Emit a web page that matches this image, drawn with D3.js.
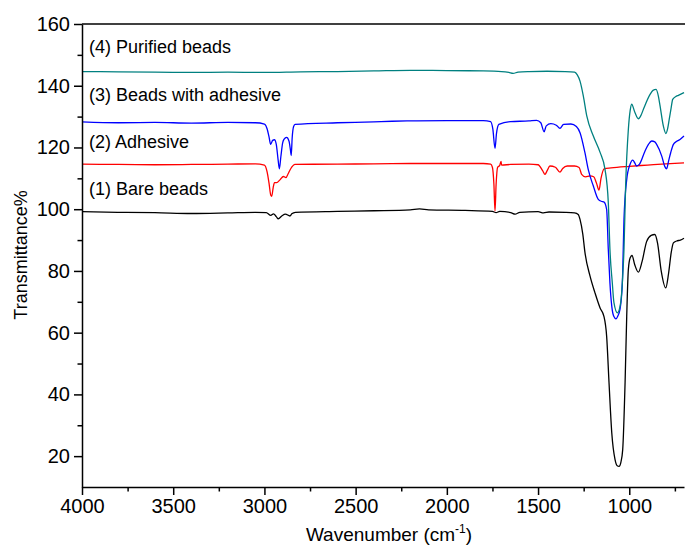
<!DOCTYPE html>
<html>
<head>
<meta charset="utf-8">
<script src="https://cdn.jsdelivr.net/npm/d3@7"></script>
<style>
  html, body { margin: 0; padding: 0; background: #fff; }
  svg { display: block; }
  text { font-family: "Liberation Sans", Arial, sans-serif; fill: #000; }
</style>
</head>
<body>
<svg id="chart" width="685" height="546"></svg>
<script>
// FTIR spectra: [wavenumber (cm-1), transmittance %] pairs, offset per sample
const bareBeads = [
  [4000, 99.2], [3800, 99.0], [3600, 98.9], [3400, 98.6], [3200, 98.8], [3050, 99.0],
  [2990, 98.9], [2965, 98.0], [2950, 98.5], [2935, 97.6], [2924, 96.9], [2905, 97.8],
  [2885, 98.4], [2860, 97.8], [2850, 98.5], [2830, 99.0], [2600, 99.3], [2400, 99.5],
  [2200, 99.8], [2150, 100.1], [2100, 99.8], [1900, 99.6], [1750, 99.3], [1730, 98.9],
  [1710, 99.3], [1650, 98.9], [1626, 98.4], [1600, 99.0], [1500, 99.2], [1470, 98.8],
  [1440, 99.1], [1350, 99.0], [1300, 98.8], [1280, 98.3], [1270, 96.7], [1255, 92.0],
  [1243, 86.0], [1215, 78.3], [1188, 72.9], [1160, 68.0], [1139, 65.3], [1124, 58.8],
  [1111, 43.8], [1096, 27.6], [1078, 18.9], [1066, 16.9], [1056, 16.7], [1046, 18.0],
  [1036, 22.1], [1023, 43.8], [1014, 65.3], [1005, 80.5], [995, 84.3], [985, 85.0],
  [970, 82.0], [950, 79.6], [930, 83.0], [905, 89.5], [880, 91.5], [860, 91.8],
  [845, 89.0], [825, 80.0], [800, 74.5], [785, 79.0], [770, 86.0], [758, 89.1],
  [740, 89.7], [720, 90.0], [700, 90.6]
];

const adhesive = [
  [4000, 114.6], [3800, 114.5], [3600, 114.4], [3400, 114.5], [3200, 114.6], [3050, 114.7],
  [3000, 114.3], [2985, 112.0], [2975, 108.5], [2965, 104.5], [2960, 104.2], [2952, 107.0],
  [2945, 108.6], [2933, 108.6], [2915, 109.5], [2896, 110.6], [2882, 110.2], [2870, 111.5],
  [2856, 113.1], [2832, 114.5], [2600, 114.6], [2400, 114.7], [2200, 114.8], [2000, 114.8],
  [1800, 114.8], [1760, 114.6], [1750, 113.5], [1742, 108.0], [1736, 99.4], [1730, 108.0],
  [1722, 113.5], [1710, 114.2], [1703, 115.5], [1700, 114.3], [1650, 114.5], [1550, 114.6],
  [1500, 114.4], [1475, 112.5], [1462, 111.3], [1450, 112.5], [1435, 114.0], [1405, 113.6],
  [1380, 112.0], [1365, 113.2], [1340, 114.0], [1300, 114.0], [1275, 113.5], [1261, 111.3],
  [1240, 110.5], [1215, 110.8], [1195, 110.5], [1180, 108.5], [1166, 106.2], [1155, 110.0],
  [1138, 113.1], [1100, 113.4], [1000, 113.9], [900, 114.3], [800, 114.7], [700, 115.0]
];

const beadsWithAdhesive = [
  [4000, 128.3], [3800, 128.0], [3600, 128.1], [3400, 127.9], [3200, 128.1], [3050, 128.0],
  [3000, 127.6], [2985, 126.0], [2975, 123.5], [2966, 121.0], [2955, 122.3], [2945, 122.5],
  [2935, 121.0], [2925, 116.0], [2918, 113.1], [2910, 117.0], [2900, 121.5], [2893, 122.6],
  [2878, 123.3], [2865, 122.0], [2857, 119.0], [2853, 117.4], [2848, 123.0], [2840, 126.8],
  [2832, 127.5], [2600, 128.0], [2400, 128.3], [2300, 128.5], [2200, 128.6], [2000, 128.7],
  [1800, 128.7], [1760, 128.4], [1748, 126.0], [1736, 119.7], [1728, 124.5], [1715, 127.5],
  [1650, 128.4], [1550, 128.6], [1508, 128.8], [1485, 128.0], [1467, 125.1], [1455, 127.0],
  [1430, 127.7], [1400, 127.2], [1380, 126.2], [1360, 127.5], [1320, 127.6], [1290, 126.8],
  [1270, 124.8], [1243, 118.3], [1225, 112.9], [1197, 107.5], [1170, 103.2], [1150, 102.5],
  [1138, 102.3], [1124, 99.9], [1115, 87.0], [1106, 76.1], [1096, 68.6], [1085, 65.3],
  [1073, 64.5], [1062, 65.5], [1051, 67.5], [1038, 76.1], [1033, 87.0], [1029, 96.7],
  [1014, 109.6], [996, 114.5], [981, 115.9], [970, 115.0], [960, 114.0], [945, 114.5],
  [914, 118.8], [895, 121.0], [877, 122.1], [860, 121.8], [850, 121.0], [822, 117.2],
  [805, 113.8], [795, 113.1], [785, 115.5], [773, 118.3], [758, 121.0], [740, 122.0],
  [722, 122.6], [700, 123.7]
];

const purifiedBeads = [
  [4000, 144.6], [3800, 144.5], [3600, 144.4], [3400, 144.3], [3200, 144.4], [3000, 144.3],
  [2800, 144.5], [2600, 144.6], [2400, 144.8], [2200, 145.0], [2000, 144.9], [1800, 144.8],
  [1700, 144.6], [1660, 144.3], [1637, 144.0], [1610, 144.4], [1550, 144.6], [1450, 144.7],
  [1350, 144.6], [1300, 144.4], [1285, 143.5], [1270, 141.5], [1252, 136.7], [1233, 130.2],
  [1197, 123.7], [1160, 118.4], [1133, 112.9], [1115, 102.2], [1106, 87.0], [1093, 76.1],
  [1084, 69.7], [1065, 66.4], [1047, 69.7], [1036, 78.3], [1029, 87.0], [1020, 107.5],
  [1005, 125.9], [995, 132.0], [987, 134.0], [969, 131.3], [950, 129.3], [935, 130.5],
  [923, 132.3], [886, 137.2], [870, 138.5], [853, 138.8], [840, 136.5], [831, 133.4],
  [813, 126.9], [799, 124.5], [790, 126.0], [781, 129.1], [770, 133.0], [762, 135.6],
  [745, 136.5], [731, 136.9], [700, 137.8]
];

const seriesNames = ["(1) Bare beads", "(2) Adhesive", "(3) Beads with adhesive", "(4) Purified beads"];
const seriesColors = ["#000000", "#ff0000", "#0000ff", "#008080"];
const xTickValues = [4000, 3500, 3000, 2500, 2000, 1500, 1000];
const xMinorTicks = [3750, 3250, 2750, 2250, 1750, 1250, 750];
const yTickValues = [20, 40, 60, 80, 100, 120, 140, 160];
const yMinorTicks = [30, 50, 70, 90, 110, 130, 150];

const svg = d3.select("#chart");
const plot = { left: 82, right: 684, top: 24, bottom: 487 };

const x = d3.scaleLinear().domain([4000, 700]).range([plot.left, plot.right]);
const y = d3.scaleLinear().domain([10, 160]).range([plot.bottom, plot.top]);

// spectra
const line = d3.line()
  .x(d => x(d[0]))
  .y(d => y(d[1]))
  .curve(d3.curveMonotoneX);

const clip = svg.append("clipPath").attr("id", "plotClip")
  .append("rect")
  .attr("x", plot.left).attr("y", plot.top)
  .attr("width", plot.right - plot.left + 2).attr("height", plot.bottom - plot.top);

const spectra = [bareBeads, adhesive, beadsWithAdhesive, purifiedBeads];
svg.append("g").attr("clip-path", "url(#plotClip)")
  .selectAll("path")
  .data(spectra)
  .join("path")
  .attr("d", line)
  .attr("fill", "none")
  .attr("stroke", (d, i) => seriesColors[i])
  .attr("stroke-width", 1.3)
  .attr("stroke-linejoin", "round");

// axes
const axisStyle = g => {
  g.selectAll(".domain").attr("stroke", "#000").attr("stroke-width", 1.5);
  g.selectAll(".tick line").attr("stroke", "#000").attr("stroke-width", 1.5);
  g.selectAll("text").attr("font-size", 20).attr("font-family", "'Liberation Sans', Arial, sans-serif");
};

svg.append("g")
  .attr("transform", `translate(0,${plot.bottom})`)
  .call(d3.axisBottom(x).tickValues(xMinorTicks).tickSize(4.5).tickFormat(""))
  .call(g => g.select(".domain").remove())
  .call(axisStyle);

svg.append("g")
  .attr("transform", `translate(0,${plot.bottom})`)
  .call(d3.axisBottom(x).tickValues(xTickValues).tickSize(8).tickSizeOuter(0).tickPadding(4).tickFormat(d3.format("d")))
  .call(axisStyle);

svg.append("g")
  .attr("transform", `translate(${plot.left},0)`)
  .call(d3.axisLeft(y).tickValues(yMinorTicks).tickSize(4.5).tickFormat(""))
  .call(g => g.select(".domain").remove())
  .call(axisStyle);

svg.append("g")
  .attr("transform", `translate(${plot.left},0)`)
  .call(d3.axisLeft(y).tickValues(yTickValues).tickSize(8).tickSizeOuter(0).tickPadding(4))
  .call(axisStyle);

// top frame line
svg.append("line")
  .attr("x1", plot.left).attr("x2", 685)
  .attr("y1", plot.top).attr("y2", plot.top)
  .attr("stroke", "#000").attr("stroke-width", 1.5);

// axis titles
const xTitle = svg.append("text")
  .attr("x", 389).attr("y", 541)
  .attr("text-anchor", "middle")
  .attr("font-size", 19);
xTitle.append("tspan").text("Wavenumber (cm");
xTitle.append("tspan").attr("font-size", 12).attr("dy", -8).text("-1");
xTitle.append("tspan").attr("dy", 8).text(")");

svg.append("text")
  .attr("transform", "translate(27,255) rotate(-90)")
  .attr("text-anchor", "middle")
  .attr("font-size", 18)
  .text("Transmittance%");

// series labels
const labelBaselines = [195, 148, 101, 53];
svg.append("g")
  .selectAll("text")
  .data(seriesNames)
  .join("text")
  .attr("x", 89)
  .attr("y", (d, i) => labelBaselines[i])
  .attr("font-size", 18)
  .text(d => d);
</script>
</body>
</html>
